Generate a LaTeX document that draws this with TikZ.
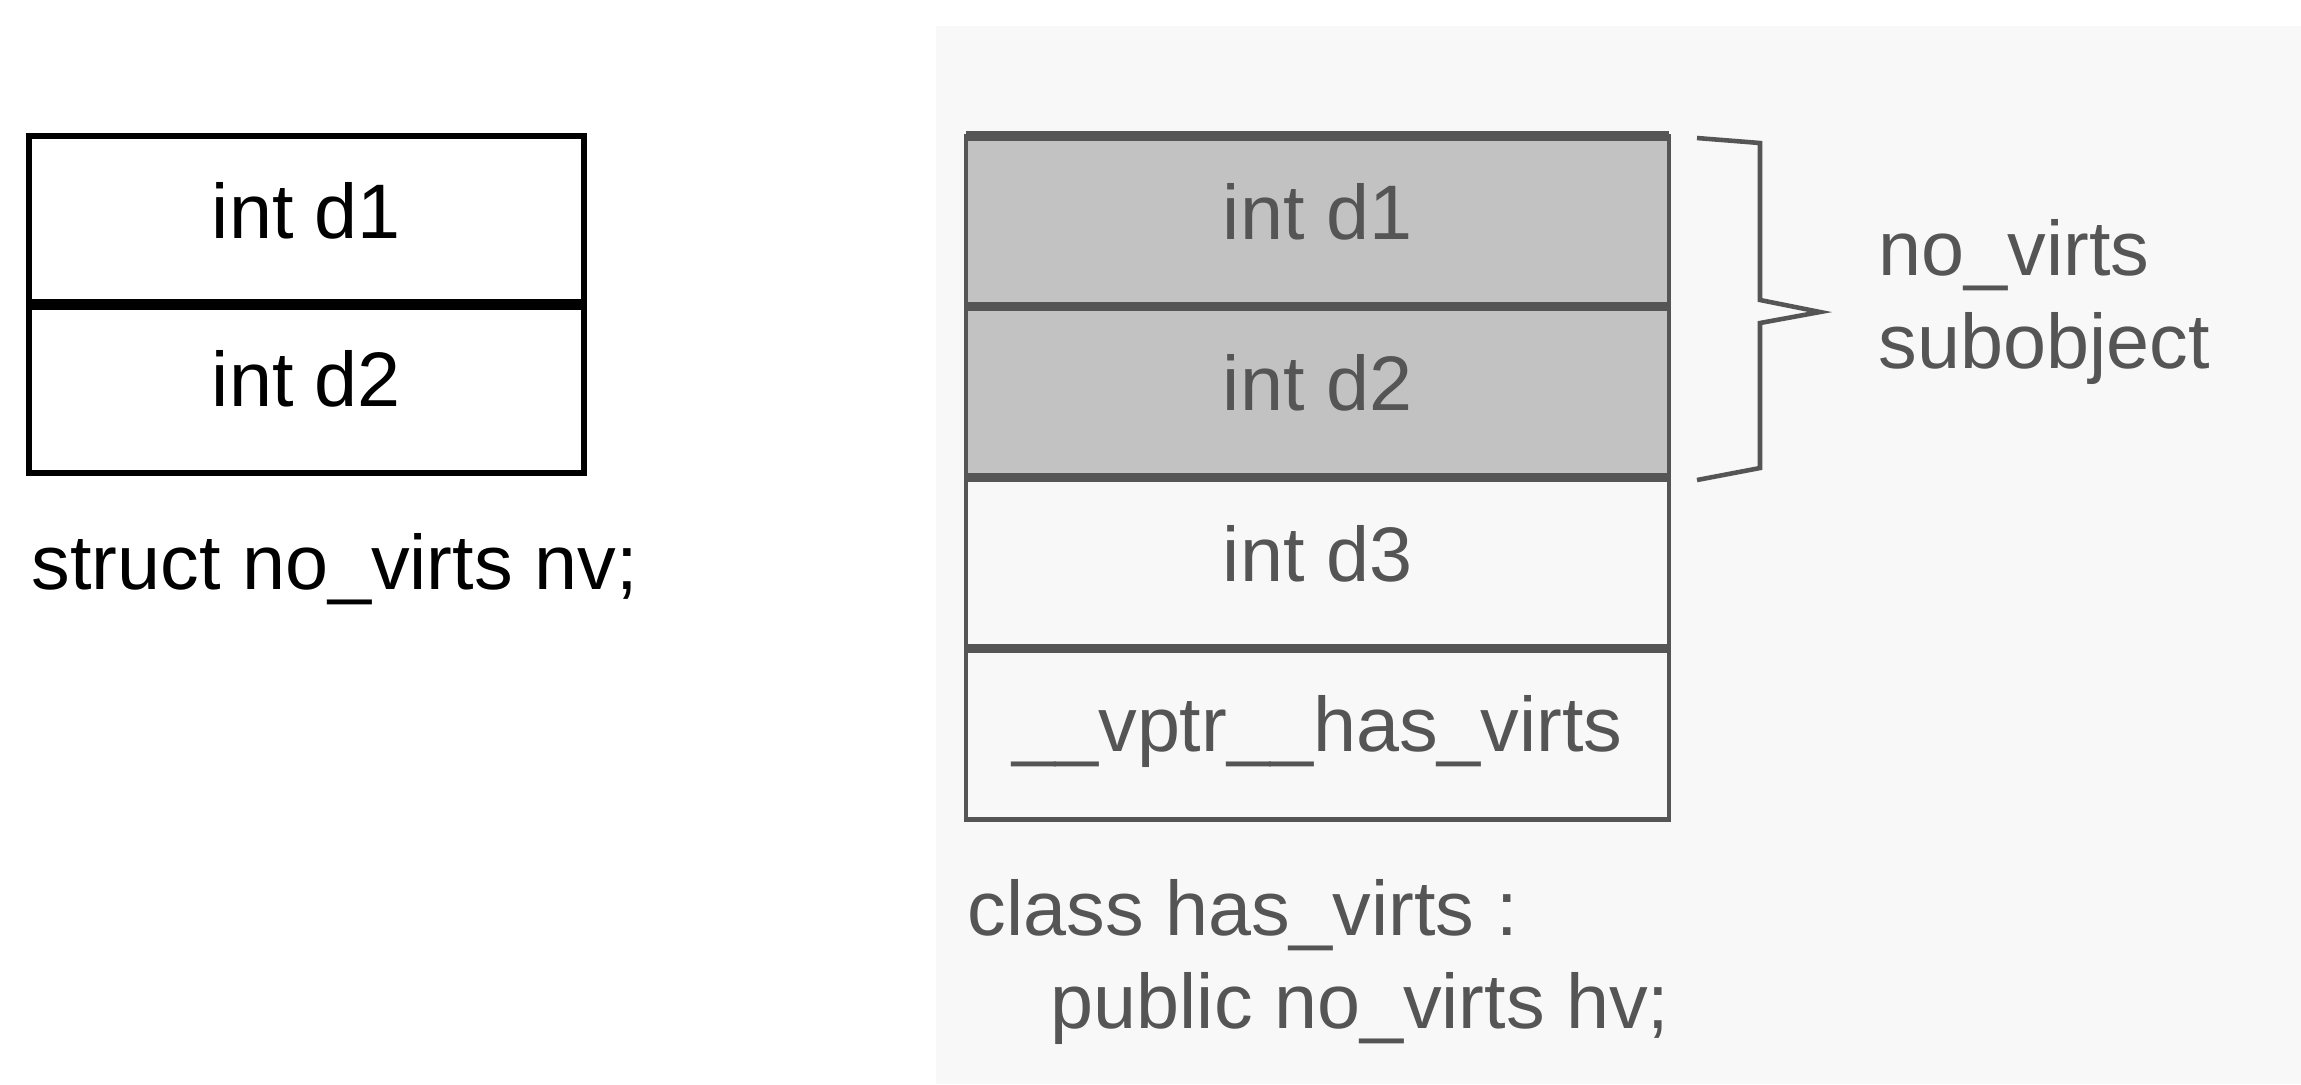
\documentclass[tikz,border=0pt]{standalone}
\usepackage{fontspec}
\setmainfont{Liberation Sans}
\usetikzlibrary{positioning}
\definecolor{siva}{HTML}{555555}
\definecolor{senca}{HTML}{C2C2C2}
\definecolor{podlaga}{HTML}{F8F8F8}
\tikzset{
	diagram/.style={font=\fontsize{22}{26.4}\selectfont},
	celica/.style={draw, line width=1.8pt, minimum width=55.5mm, minimum height=16.85mm,
	               inner sep=0pt, outer sep=0pt, text height=5.5mm, text depth=1.9mm},
	celicab/.style={draw=siva, text=siva, line width=1.4pt, minimum width=70.3mm,
	                minimum height=17.08mm, inner sep=0pt, outer sep=0pt,
	                text height=5.5mm, text depth=1.9mm},
	zasenceno/.style={fill=senca},
	meja/.style={line width=3.2pt},
	mejab/.style={draw=siva, line width=2.6pt},
	napis/.style={anchor=base west, align=left, inner sep=0pt},
	oklepaj/.style={draw=siva, line width=1.3pt, line join=miter},
}

\begin{document}
\begin{tikzpicture}[diagram]

\useasboundingbox (0,0) rectangle (23.01,-10.84);
\fill[white] (0,0) rectangle (23.01,-10.84);
\fill[podlaga] (9.36,-0.26) rectangle (23.01,-10.84);

% struct no_virts
\node[celica] (nvd1) at (3.065,-2.20) {int d1};
\node[celica, below=0pt of nvd1] (nvd2) {int d2};
\draw[meja] (nvd1.south west) -- (nvd1.south east);
\node[napis] (nvime) at (0.31,-5.89) {struct no\_virts nv;};

% class has_virts
\node[celicab, zasenceno] (hvd1) at (13.175,-2.214) {int d1};
\node[celicab, zasenceno, below=0pt of hvd1] (hvd2) {int d2};
\node[celicab, below=0pt of hvd2] (hvd3) {int d3};
\node[celicab, below=0pt of hvd3] (hvvptr) {\_\_vptr\_\_has\_virts};
\draw[mejab] (hvd1.north west) -- (hvd1.north east);
\foreach \c in {hvd1,hvd2,hvd3}
	\draw[mejab] (\c.south west) -- (\c.south east);
\node[napis, text=siva] (hvime) at (9.67,-10.28)
	{class has\_virts :\\\hspace*{8.3mm}public no\_virts hv;};

\draw[oklepaj] (16.97,-1.38) -- (17.60,-1.43) -- (17.60,-3.00) -- (18.20,-3.12)
	-- (17.60,-3.23) -- (17.60,-4.68) -- (16.97,-4.80);
\node[napis, text=siva] (podobj) at (18.78,-3.68) {no\_virts\\subobject};

\end{tikzpicture}
\end{document}
